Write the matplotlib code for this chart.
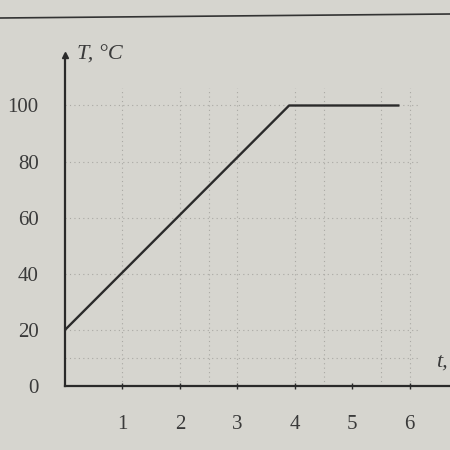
import numpy as np
import matplotlib.pyplot as plt
from matplotlib.lines import Line2D

# heating curve: temperature rises then stays at boiling point
t = [0, 3.9, 5.8]
T = [20, 100, 100]

x_ticks = [1, 2, 3, 4, 5, 6]
y_ticks = [0, 20, 40, 60, 80, 100]
x_grid = [1, 2, 2.5, 3, 4, 4.5, 5.5, 6]
y_grid = [10, 20, 40, 60, 80, 100]

paper = '#d6d5cf'
ink = '#2a2a2a'

plt.rcParams['font.family'] = ['Liberation Serif', 'DejaVu Serif']

fig = plt.figure(figsize=(4.5, 4.5), dpi=100, facecolor=paper)
ax = fig.add_axes([65/450, 64/450, 385/450, 331/450])
ax.set_facecolor(paper)

# faint dotted grid
for gx in x_grid:
    ax.axvline(gx, ymax=0.9, color='#a9a8a3', lw=0.8, ls=(0, (1, 3)), zorder=0)
for gy in y_grid:
    ax.axhline(gy, xmax=0.92, color='#a9a8a3', lw=0.8, ls=(0, (1, 3)), zorder=0)

ax.plot(t, T, color=ink, lw=1.7, zorder=3)

ax.set_xlim(0, 6.7)
ax.set_ylim(0, 118)
ax.set_xticks(x_ticks)
ax.set_yticks(y_ticks)
ax.tick_params(axis='x', length=4, width=1, color=ink, direction='inout',
               labelsize=15, labelcolor='#3a3a3a', pad=19)
ax.tick_params(axis='y', length=0, labelsize=15, labelcolor='#3a3a3a', pad=19)

for s in ['top', 'right']:
    ax.spines[s].set_visible(False)
for s in ['left', 'bottom']:
    ax.spines[s].set_color(ink)
    ax.spines[s].set_linewidth(1.6)

# arrow on y axis
ax.plot(0, 1, marker='^', color=ink, ms=5, transform=ax.transAxes, clip_on=False)

ax.text(0.03, 1.0, 'T, °C', transform=ax.transAxes, fontsize=16, style='italic',
        color='#3a3a3a', va='center', ha='left')
ax.text(6.45, 5, 't,', fontsize=16, style='italic', color='#3a3a3a', ha='left', va='bottom')

# page edge line at top of the photo
fig.add_artist(Line2D([0, 1], [1 - 18/450, 1 - 14/450], color='#333333', lw=1.2))

fig.savefig('out.png', dpi=100, facecolor=paper)
